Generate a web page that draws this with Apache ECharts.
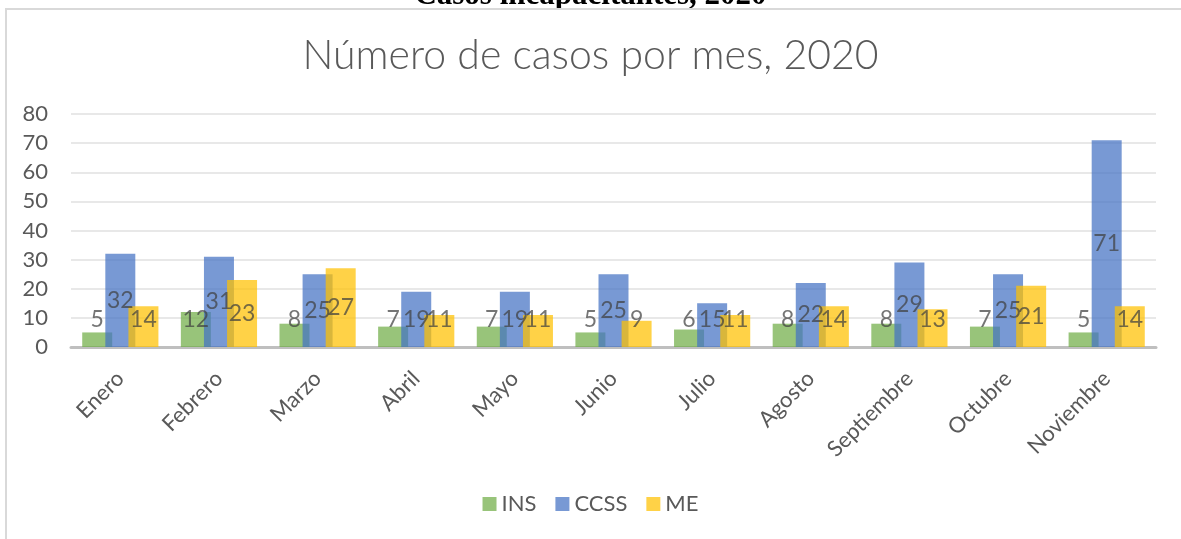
<!DOCTYPE html>
<html>
<head>
<meta charset="utf-8">
<script src="https://cdn.jsdelivr.net/npm/echarts@6/dist/echarts.min.js"></script>
<style>
  html, body { margin: 0; padding: 0; background: #fff; }
  #chartBox { width: 1181px; height: 539px; }
</style>
</head>
<body>
<div id="chartBox"></div>
<script>
// datos
var meses = ['Enero', 'Febrero', 'Marzo', 'Abril', 'Mayo', 'Junio', 'Julio', 'Agosto', 'Septiembre', 'Octubre', 'Noviembre']
var ins = [5, 12, 8, 7, 7, 5, 6, 8, 8, 7, 5]
var ccss = [32, 31, 25, 19, 19, 25, 15, 22, 29, 25, 71]
var me = [14, 23, 27, 11, 11, 9, 11, 14, 13, 21, 14]

var fuente = 'Lato, "Open Sans", sans-serif'
var gris = '#595959'

var chart = echarts.init(document.getElementById('chartBox'), null, { renderer: 'canvas' })

// etiqueta al centro de la barra, pero nunca mas abajo que ~27px sobre la base
var posEtiqueta = function (p) {
  var r = p.rect
  var base = r.y + r.height
  return {
    x: r.x + r.width / 2,
    y: Math.min(r.y + r.height / 2, base - 27),
    align: 'center',
    verticalAlign: 'middle'
  }
}

var serie = function (nombre, datos, color) {
  return {
    name: nombre,
    type: 'bar',
    data: datos,
    barWidth: 30,
    barGap: '-23%',
    itemStyle: { color: color, opacity: 0.72 },
    label: {
      show: true,
      position: 'inside',
      color: '#404040',
      fontSize: 23,
      fontFamily: fuente
    },
    labelLayout: posEtiqueta
  }
}

var option = {
  animation: false,
  title: {
    text: 'Número de casos por mes, 2020',
    left: 'center',
    top: 30,
    textStyle: { color: gris, fontSize: 41, fontWeight: 300, fontFamily: fuente }
  },
  graphic: [
    {
      type: 'text',
      left: 'center',
      top: -20,
      z: -1,
      style: {
        text: 'Casos incapacitantes, 2020',
        font: 'bold 31px "Liberation Serif", serif',
        fill: '#000'
      }
    },
    {
      type: 'rect',
      shape: { x: 6, y: 9, width: 1300, height: 700 },
      style: { fill: '#fff', stroke: '#d9d9d9', lineWidth: 2 },
      z: -1,
      silent: true
    }
  ],
  legend: {
    bottom: 19,
    left: 'center',
    itemWidth: 14,
    itemHeight: 14,
    itemGap: 19,
    icon: 'rect',
    textStyle: { color: gris, fontSize: 22, fontFamily: fuente },
    data: ['INS', 'CCSS', 'ME']
  },
  grid: { left: 71, right: 25, top: 114, bottom: 192 },
  xAxis: {
    type: 'category',
    data: meses,
    axisLine: { lineStyle: { color: '#bfbfbf', width: 3 } },
    axisTick: { show: false },
    axisLabel: { rotate: 45, margin: 28, color: gris, fontSize: 22, fontFamily: fuente }
  },
  yAxis: {
    type: 'value',
    min: 0,
    max: 80,
    interval: 10,
    axisLine: { show: false },
    axisTick: { show: false },
    axisLabel: { margin: 23, color: gris, fontSize: 22, fontFamily: fuente },
    splitLine: { lineStyle: { color: '#e8e8e8', width: 2 } }
  },
  series: [
    serie('INS', ins, '#70AD47'),
    serie('CCSS', ccss, '#4472C4'),
    serie('ME', me, '#FFC000')
  ]
}

chart.setOption(option)
</script>
</body>
</html>
